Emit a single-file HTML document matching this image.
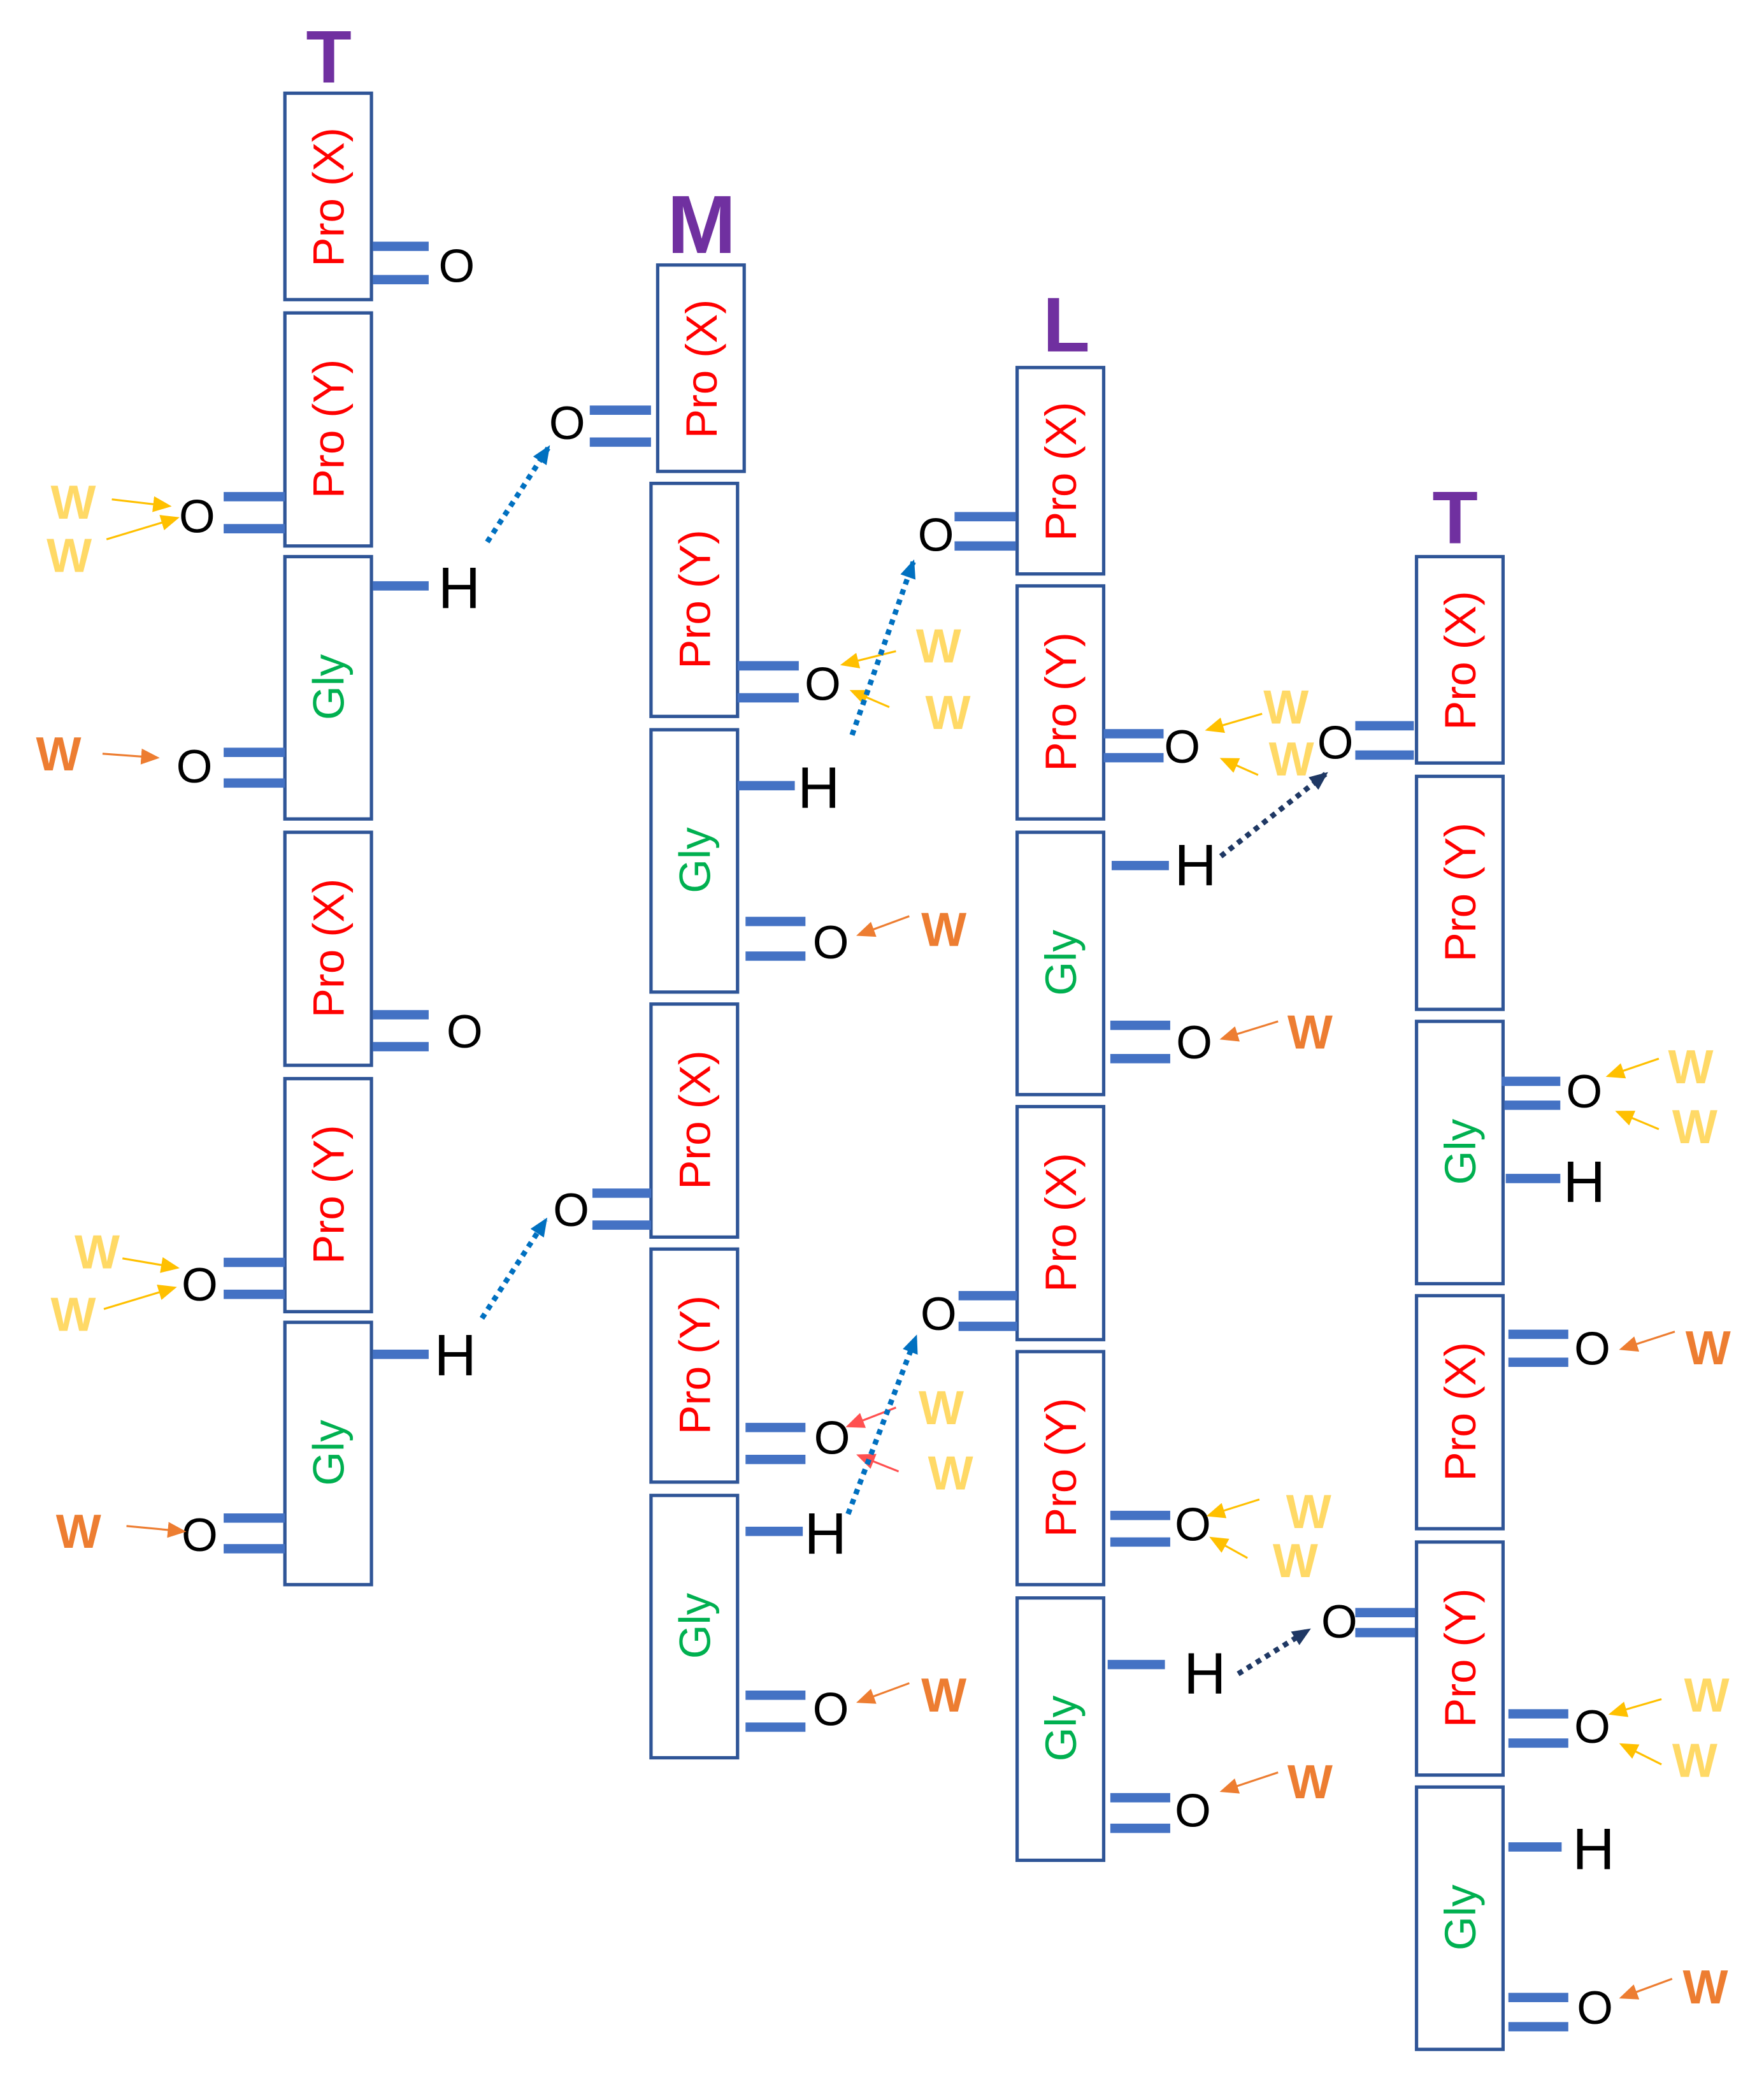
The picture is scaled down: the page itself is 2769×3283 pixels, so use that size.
<!DOCTYPE html>
<html><head><meta charset="utf-8"><style>
html,body{margin:0;padding:0;background:#fff;}
svg{display:block;}
.bx{fill:#fff;stroke:#2F5597;stroke-width:2.5}
.bd{stroke:#4472C4;stroke-width:7}
.lb{font-family:"Liberation Sans",sans-serif;font-size:33px;text-anchor:middle;dominant-baseline:central}
.o{font-family:"Liberation Sans",sans-serif;font-size:35px;text-anchor:middle;dominant-baseline:central;fill:#000}
.h{font-family:"Liberation Sans",sans-serif;font-size:44px;text-anchor:middle;dominant-baseline:central;fill:#000}
.wy{font-family:"Liberation Sans",sans-serif;font-size:36px;font-weight:bold;text-anchor:middle;dominant-baseline:central;fill:#FFD966}
.wo{font-family:"Liberation Sans",sans-serif;font-size:36px;font-weight:bold;text-anchor:middle;dominant-baseline:central;fill:#ED7D31}
.ti{font-family:"Liberation Sans",sans-serif;font-weight:bold;text-anchor:middle;fill:#7030A0}
.ay{stroke:#FFC000;stroke-width:1.5;marker-end:url(#my)}
.ao{stroke:#ED7D31;stroke-width:1.5;marker-end:url(#mo)}
.ar{stroke:#FF5050;stroke-width:1.5;marker-end:url(#mr)}
.db{stroke:#0070C0;stroke-width:4;stroke-dasharray:4 4;marker-end:url(#mb)}
.dn{stroke:#1F3864;stroke-width:4;stroke-dasharray:4 4;marker-end:url(#mn)}
</style></head><body>
<svg width="2769" height="3283" viewBox="0 0 1325 1571" preserveAspectRatio="none" xmlns="http://www.w3.org/2000/svg">
<defs>
<marker id="my" markerWidth="14" markerHeight="12" refX="12" refY="6" orient="auto" markerUnits="userSpaceOnUse"><path d="M0,0 L14,6 L0,12z" fill="#FFC000"/></marker>
<marker id="mo" markerWidth="14" markerHeight="12" refX="12" refY="6" orient="auto" markerUnits="userSpaceOnUse"><path d="M0,0 L14,6 L0,12z" fill="#ED7D31"/></marker>
<marker id="mr" markerWidth="14" markerHeight="12" refX="12" refY="6" orient="auto" markerUnits="userSpaceOnUse"><path d="M0,0 L14,6 L0,12z" fill="#FF5050"/></marker>
<marker id="mb" markerWidth="14" markerHeight="12" refX="12" refY="6" orient="auto" markerUnits="userSpaceOnUse"><path d="M0,0 L14,6 L0,12z" fill="#0070C0"/></marker>
<marker id="mn" markerWidth="14" markerHeight="12" refX="12" refY="6" orient="auto" markerUnits="userSpaceOnUse"><path d="M0,0 L14,6 L0,12z" fill="#1F3864"/></marker>
</defs>

<!-- Column T1 -->
<text class="ti" x="247" y="62" font-size="56">T</text>
<rect class="bx" x="214" y="70" width="65" height="155"/>
<text class="lb" fill="#FF0000" transform="translate(247,148) rotate(-90)">Pro (X)</text>
<rect class="bx" x="214" y="235" width="65" height="175"/>
<text class="lb" fill="#FF0000" transform="translate(247,322) rotate(-90)">Pro (Y)</text>
<rect class="bx" x="214" y="418" width="65" height="197"/>
<text class="lb" fill="#00B050" transform="translate(247,516) rotate(-90)">Gly</text>
<rect class="bx" x="214" y="625" width="65" height="175"/>
<text class="lb" fill="#FF0000" transform="translate(247,712) rotate(-90)">Pro (X)</text>
<rect class="bx" x="214" y="810" width="65" height="175"/>
<text class="lb" fill="#FF0000" transform="translate(247,897) rotate(-90)">Pro (Y)</text>
<rect class="bx" x="214" y="993" width="65" height="197"/>
<text class="lb" fill="#00B050" transform="translate(247,1091) rotate(-90)">Gly</text>

<line class="bd" x1="280" y1="185" x2="322" y2="185"/><line class="bd" x1="280" y1="210" x2="322" y2="210"/>
<text class="o" x="343" y="200">O</text>
<line class="bd" x1="168" y1="373" x2="214" y2="373"/><line class="bd" x1="168" y1="397" x2="214" y2="397"/>
<text class="o" x="148" y="388">O</text>
<text class="wy" x="55" y="377">W</text><line class="ay" x1="84" y1="375" x2="127" y2="380"/>
<text class="wy" x="52" y="417">W</text><line class="ay" x1="80" y1="405" x2="133" y2="389"/>
<line class="bd" x1="280" y1="440" x2="322" y2="440"/>
<text class="h" x="345" y="442">H</text>
<line class="bd" x1="168" y1="565" x2="214" y2="565"/><line class="bd" x1="168" y1="588" x2="214" y2="588"/>
<text class="o" x="146" y="576">O</text>
<text class="wo" x="44" y="566">W</text><line class="ao" x1="77" y1="566" x2="118" y2="569"/>
<line class="bd" x1="280" y1="762" x2="322" y2="762"/><line class="bd" x1="280" y1="786" x2="322" y2="786"/>
<text class="o" x="349" y="775">O</text>
<line class="bd" x1="168" y1="948" x2="214" y2="948"/><line class="bd" x1="168" y1="972" x2="214" y2="972"/>
<text class="o" x="150" y="965">O</text>
<text class="wy" x="73" y="940">W</text><line class="ay" x1="92" y1="945" x2="133" y2="952"/>
<text class="wy" x="55" y="987">W</text><line class="ay" x1="78" y1="983" x2="131" y2="967"/>
<line class="bd" x1="280" y1="1017" x2="322" y2="1017"/>
<text class="h" x="342" y="1018">H</text>
<line class="bd" x1="168" y1="1140" x2="214" y2="1140"/><line class="bd" x1="168" y1="1163" x2="214" y2="1163"/>
<text class="o" x="150" y="1153">O</text>
<text class="wo" x="59" y="1150">W</text><line class="ao" x1="95" y1="1146" x2="138" y2="1150"/>
<line class="db" x1="366" y1="407" x2="412" y2="336"/>
<line class="db" x1="362" y1="990" x2="410" y2="916"/>

<!-- Column M -->
<text class="ti" x="527" y="190" font-size="62">M</text>
<rect class="bx" x="494" y="199" width="65" height="155"/>
<text class="lb" fill="#FF0000" transform="translate(527,277) rotate(-90)">Pro (X)</text>
<line class="bd" x1="443" y1="308" x2="489" y2="308"/><line class="bd" x1="443" y1="332" x2="489" y2="332"/>
<text class="o" x="426" y="318">O</text>
<rect class="bx" x="489" y="363" width="65" height="175"/>
<text class="lb" fill="#FF0000" transform="translate(522,450) rotate(-90)">Pro (Y)</text>
<rect class="bx" x="489" y="548" width="65" height="197"/>
<text class="lb" fill="#00B050" transform="translate(522,646) rotate(-90)">Gly</text>
<rect class="bx" x="489" y="754" width="65" height="175"/>
<text class="lb" fill="#FF0000" transform="translate(522,841) rotate(-90)">Pro (X)</text>
<rect class="bx" x="489" y="938" width="65" height="175"/>
<text class="lb" fill="#FF0000" transform="translate(522,1025) rotate(-90)">Pro (Y)</text>
<rect class="bx" x="489" y="1123" width="65" height="197"/>
<text class="lb" fill="#00B050" transform="translate(522,1221) rotate(-90)">Gly</text>

<line class="bd" x1="554" y1="500" x2="600" y2="500"/><line class="bd" x1="554" y1="524" x2="600" y2="524"/>
<text class="o" x="618" y="514">O</text>
<text class="wy" x="705" y="485">W</text><line class="ay" x1="673" y1="489" x2="633" y2="499"/>
<text class="wy" x="712" y="535">W</text><line class="ay" x1="668" y1="531" x2="640" y2="519"/>
<line class="bd" x1="554" y1="590" x2="597" y2="590"/>
<text class="h" x="615" y="592">H</text>
<line class="bd" x1="560" y1="692" x2="605" y2="692"/><line class="bd" x1="560" y1="718" x2="605" y2="718"/>
<text class="o" x="624" y="708">O</text>
<text class="wo" x="709" y="698">W</text><line class="ao" x1="683" y1="688" x2="645" y2="702"/>
<line class="bd" x1="445" y1="896" x2="489" y2="896"/><line class="bd" x1="445" y1="920" x2="489" y2="920"/>
<text class="o" x="429" y="909">O</text>
<line class="bd" x1="560" y1="1072" x2="605" y2="1072"/><line class="bd" x1="560" y1="1096" x2="605" y2="1096"/>
<text class="o" x="625" y="1080">O</text>
<text class="wy" x="707" y="1057">W</text><line class="ar" x1="673" y1="1057" x2="637" y2="1071"/>
<text class="wy" x="714" y="1106">W</text><line class="ar" x1="675" y1="1105" x2="645" y2="1093"/>
<line class="bd" x1="560" y1="1150" x2="603" y2="1150"/>
<text class="h" x="620" y="1152">H</text>
<line class="bd" x1="560" y1="1273" x2="605" y2="1273"/><line class="bd" x1="560" y1="1297" x2="605" y2="1297"/>
<text class="o" x="624" y="1284">O</text>
<text class="wo" x="709" y="1273">W</text><line class="ao" x1="683" y1="1264" x2="645" y2="1278"/>
<line class="db" x1="640" y1="552" x2="686" y2="422"/>
<line class="db" x1="637" y1="1137" x2="688" y2="1004"/>

<!-- Column L -->
<text class="ti" x="801" y="264" font-size="58">L</text>
<rect class="bx" x="764" y="276" width="65" height="155"/>
<text class="lb" fill="#FF0000" transform="translate(797,354) rotate(-90)">Pro (X)</text>
<line class="bd" x1="717" y1="388" x2="763" y2="388"/><line class="bd" x1="717" y1="410" x2="763" y2="410"/>
<text class="o" x="703" y="402">O</text>
<rect class="bx" x="764" y="440" width="65" height="175"/>
<text class="lb" fill="#FF0000" transform="translate(797,527) rotate(-90)">Pro (Y)</text>
<rect class="bx" x="764" y="625" width="65" height="197"/>
<text class="lb" fill="#00B050" transform="translate(797,723) rotate(-90)">Gly</text>
<rect class="bx" x="764" y="831" width="65" height="175"/>
<text class="lb" fill="#FF0000" transform="translate(797,918) rotate(-90)">Pro (X)</text>
<rect class="bx" x="764" y="1015" width="65" height="175"/>
<text class="lb" fill="#FF0000" transform="translate(797,1102) rotate(-90)">Pro (Y)</text>
<rect class="bx" x="764" y="1200" width="65" height="197"/>
<text class="lb" fill="#00B050" transform="translate(797,1298) rotate(-90)">Gly</text>

<line class="bd" x1="829" y1="551" x2="874" y2="551"/><line class="bd" x1="829" y1="569" x2="874" y2="569"/>
<text class="o" x="888" y="561">O</text>
<text class="wy" x="966" y="531">W</text><line class="ay" x1="948" y1="536" x2="907" y2="548"/>
<text class="wy" x="970" y="570">W</text><line class="ay" x1="945" y1="582" x2="918" y2="570"/>
<line class="bd" x1="835" y1="650" x2="878" y2="650"/>
<text class="h" x="898" y="650">H</text>
<line class="bd" x1="834" y1="770" x2="879" y2="770"/><line class="bd" x1="834" y1="795" x2="879" y2="795"/>
<text class="o" x="897" y="783">O</text>
<text class="wo" x="984" y="775">W</text><line class="ao" x1="960" y1="767" x2="918" y2="780"/>
<line class="bd" x1="720" y1="973" x2="764" y2="973"/><line class="bd" x1="720" y1="996" x2="764" y2="996"/>
<text class="o" x="705" y="987">O</text>
<line class="bd" x1="834" y1="1138" x2="879" y2="1138"/><line class="bd" x1="834" y1="1158" x2="879" y2="1158"/>
<text class="o" x="896" y="1145">O</text>
<text class="wy" x="983" y="1135">W</text><line class="ay" x1="946" y1="1126" x2="908" y2="1138"/>
<text class="wy" x="973" y="1172">W</text><line class="ay" x1="937" y1="1170" x2="910" y2="1155"/>
<line class="bd" x1="832" y1="1250" x2="875" y2="1250"/>
<text class="h" x="905" y="1257">H</text>
<line class="bd" x1="834" y1="1350" x2="879" y2="1350"/><line class="bd" x1="834" y1="1373" x2="879" y2="1373"/>
<text class="o" x="896" y="1360">O</text>
<text class="wo" x="984" y="1338">W</text><line class="ao" x1="960" y1="1331" x2="918" y2="1345"/>
<line class="dn" x1="917" y1="643" x2="996" y2="581"/>
<line class="dn" x1="930" y1="1257" x2="983" y2="1224"/>

<!-- Column T2 -->
<text class="ti" x="1093" y="408" font-size="56">T</text>
<rect class="bx" x="1064" y="418" width="65" height="155"/>
<text class="lb" fill="#FF0000" transform="translate(1097,496) rotate(-90)">Pro (X)</text>
<line class="bd" x1="1018" y1="545" x2="1062" y2="545"/><line class="bd" x1="1018" y1="567" x2="1062" y2="567"/>
<text class="o" x="1003" y="558">O</text>
<rect class="bx" x="1064" y="583" width="65" height="175"/>
<text class="lb" fill="#FF0000" transform="translate(1097,670) rotate(-90)">Pro (Y)</text>
<rect class="bx" x="1064" y="767" width="65" height="197"/>
<text class="lb" fill="#00B050" transform="translate(1097,865) rotate(-90)">Gly</text>
<rect class="bx" x="1064" y="973" width="65" height="175"/>
<text class="lb" fill="#FF0000" transform="translate(1097,1060) rotate(-90)">Pro (X)</text>
<rect class="bx" x="1064" y="1158" width="65" height="175"/>
<text class="lb" fill="#FF0000" transform="translate(1097,1245) rotate(-90)">Pro (Y)</text>
<rect class="bx" x="1064" y="1342" width="65" height="197"/>
<text class="lb" fill="#00B050" transform="translate(1097,1440) rotate(-90)">Gly</text>

<line class="bd" x1="1128" y1="812" x2="1172" y2="812"/><line class="bd" x1="1130" y1="830" x2="1172" y2="830"/>
<text class="o" x="1190" y="820">O</text>
<text class="wy" x="1270" y="801">W</text><line class="ay" x1="1246" y1="795" x2="1208" y2="808"/>
<text class="wy" x="1273" y="846">W</text><line class="ay" x1="1246" y1="848" x2="1215" y2="835"/>
<line class="bd" x1="1131" y1="885" x2="1172" y2="885"/>
<text class="h" x="1190" y="888">H</text>
<line class="bd" x1="1133" y1="1002" x2="1178" y2="1002"/><line class="bd" x1="1133" y1="1023" x2="1178" y2="1023"/>
<text class="o" x="1196" y="1013">O</text>
<text class="wo" x="1283" y="1012">W</text><line class="ao" x1="1258" y1="1000" x2="1218" y2="1013"/>
<line class="bd" x1="1018" y1="1211" x2="1063" y2="1211"/><line class="bd" x1="1018" y1="1226" x2="1063" y2="1226"/>
<text class="o" x="1006" y="1218">O</text>
<line class="bd" x1="1133" y1="1287" x2="1178" y2="1287"/><line class="bd" x1="1133" y1="1309" x2="1178" y2="1309"/>
<text class="o" x="1196" y="1297">O</text>
<text class="wy" x="1282" y="1273">W</text><line class="ay" x1="1248" y1="1276" x2="1210" y2="1287"/>
<text class="wy" x="1273" y="1322">W</text><line class="ay" x1="1248" y1="1325" x2="1218" y2="1310"/>
<line class="bd" x1="1133" y1="1387" x2="1173" y2="1387"/>
<text class="h" x="1197" y="1389">H</text>
<line class="bd" x1="1133" y1="1500" x2="1178" y2="1500"/><line class="bd" x1="1133" y1="1522" x2="1178" y2="1522"/>
<text class="o" x="1198" y="1508">O</text>
<text class="wo" x="1281" y="1492">W</text><line class="ao" x1="1256" y1="1486" x2="1218" y2="1500"/>
</svg>
</body></html>
